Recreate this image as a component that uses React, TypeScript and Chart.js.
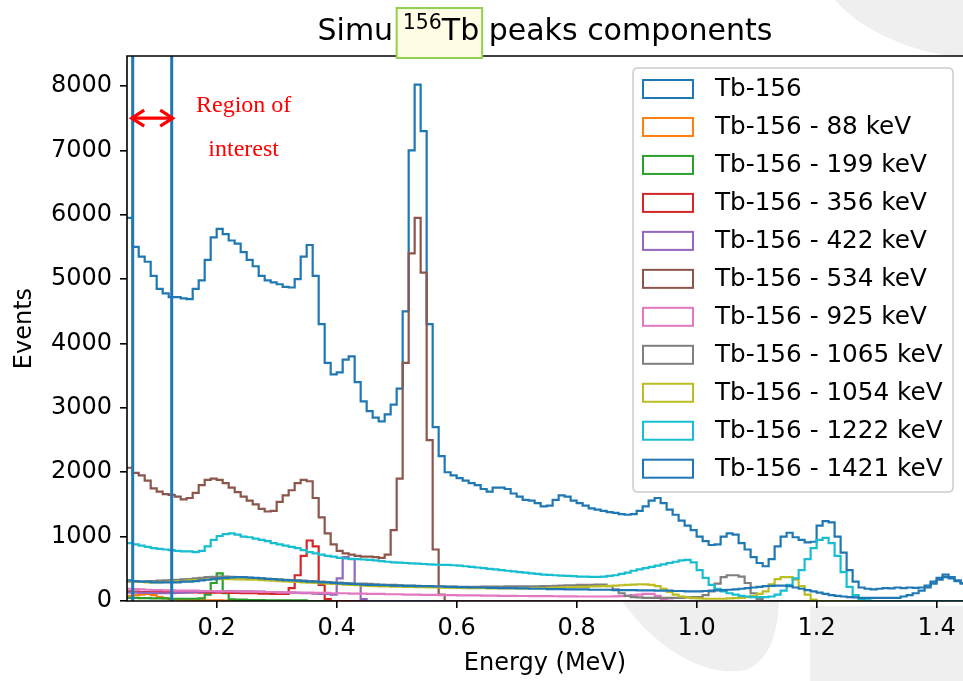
import React, { useEffect, useRef } from 'react';
import { Chart, registerables } from 'chart.js';

Chart.register(...registerables);

const FONT = "'DejaVu Sans', sans-serif";
const SERIF = "'Liberation Serif', 'Times New Roman', serif";

// ---- axes ----
const X_MIN = 0.0505;
const X_MAX = 1.444;
const Y_MIN = 0;
const Y_MAX = 8466;
const xTicks = [0.2, 0.4, 0.6, 0.8, 1.0, 1.2, 1.4];
const yTicks = [0, 1000, 2000, 3000, 4000, 5000, 6000, 7000, 8000];

// ---- histogram binning (MeV) ----
const BIN_START = 0.05;
const BIN_WIDTH = 0.01;
const N_BINS = 140;

// ---- series (counts per bin, bins start at 0.05 MeV, 0.01 MeV wide; missing = 0) ----
const tb156Total = [
  5950, 5500, 5350, 5270, 5050, 4850, 4780, 4720, 4720, 4700,
  4690, 4850, 4980, 5300, 5650, 5780, 5700, 5600, 5550, 5420,
  5300, 5200, 5050, 4980, 4950, 4920, 4880, 4870, 5000, 5350,
  5530, 5050, 4300, 3700, 3520, 3550, 3750, 3800, 3400, 3100,
  2950, 2850, 2790, 2900, 3050, 3300, 4500, 7000, 8020, 7300,
  4300, 2700, 2250, 2000, 1950, 1910, 1870, 1830, 1800, 1740,
  1700, 1760, 1760, 1740, 1670, 1620, 1570, 1560, 1520, 1470,
  1480, 1570, 1640, 1620, 1560, 1520, 1480, 1440, 1420, 1400,
  1380, 1370, 1350, 1340, 1350, 1400, 1470, 1560, 1600, 1520,
  1420, 1340, 1250, 1170, 1100, 1000, 930, 870, 880, 1000,
  1050, 1030, 900, 800, 680, 590, 540, 650, 850, 1000,
  1060, 990, 950, 910, 920, 1170, 1240, 1220, 1000, 750,
  480, 300, 210, 190, 180, 190, 200, 195, 210, 200,
  210, 205, 210, 240, 300, 360, 410, 370, 320, 280,
];
const tb156_88 = [80, 90, 100, 110, 90, 60, 40, 30, 25, 20, 20, 15, 15, 10, 10, 10, 5, 5, 5, 5];
const tb156_199 = [
  50, 50, 45, 45, 40, 40, 40, 35, 35, 35, 35, 35, 40, 100, 280, 430, 120, 25, 20, 20,
  15, 15, 15, 10, 10, 10, 10, 10, 10, 10,
];
const tb156_356 = [
  150, 145, 140, 140, 140, 140, 140, 135, 135, 135, 135, 135, 130, 130, 130, 130, 130,
  125, 125, 120, 120, 120, 115, 115, 110, 110, 110, 200, 400, 700, 940, 850, 250, 30,
];
const tb156_422 = [
  130, 130, 125, 125, 125, 120, 120, 120, 125, 130, 135, 140, 145, 150, 150, 150, 155,
  155, 150, 150, 150, 145, 145, 140, 140, 135, 130, 130, 125, 120, 120, 115, 110, 110,
  100, 350, 680, 650, 250, 30,
];
const tb156_534 = [
  2070, 1990, 1950, 1870, 1750, 1700, 1660, 1650, 1620, 1580,
  1600, 1680, 1800, 1880, 1900, 1880, 1830, 1760, 1690, 1620,
  1560, 1500, 1430, 1390, 1400, 1540, 1640, 1720, 1830, 1880,
  1860, 1600, 1300, 1050, 880, 780, 740, 720, 700, 690,
  690, 680, 670, 720, 1100, 1900, 3700, 5400, 5950, 5100,
  2500, 800, 100,
];
const tb156_925 = [
  190, 185, 180, 175, 170, 170, 165, 165, 160, 160,
  160, 160, 155, 155, 155, 150, 150, 150, 150, 145,
  145, 145, 140, 140, 140, 135, 135, 135, 130, 130,
  130, 125, 125, 125, 120, 120, 120, 115, 115, 115,
  110, 110, 110, 105, 105, 105, 100, 100, 100, 95,
  95, 95, 90, 90, 90, 88, 88, 86, 86, 85,
  85, 85, 80, 80, 80, 78, 78, 76, 76, 75,
  75, 74, 73, 72, 72, 70, 70, 70, 70, 70,
  70, 72, 75, 80, 90, 100, 110, 110, 80, 30,
  5,
];
const tb156_1065 = [
  300, 300, 300, 305, 310, 315, 320, 325, 330, 335,
  340, 350, 360, 370, 375, 380, 380, 375, 370, 365,
  360, 355, 350, 345, 340, 335, 330, 325, 320, 315,
  310, 305, 300, 295, 290, 285, 280, 275, 270, 270,
  265, 260, 255, 250, 250, 245, 240, 240, 235, 230,
  230, 228, 226, 224, 222, 220, 220, 220, 220, 222,
  222, 224, 225, 226, 226, 227, 228, 228, 229, 230,
  230, 235, 240, 245, 245, 250, 250, 250, 255, 255,
  230, 180, 120, 80, 60, 55, 50, 50, 50, 50,
  50, 50, 50, 55, 60, 60, 90, 150, 270, 370,
  400, 400, 380, 280, 120, 30,
];
const tb156_1054 = [
  310, 300, 295, 290, 290, 290, 295, 300, 305, 310,
  320, 325, 330, 335, 340, 340, 340, 340, 335, 335,
  330, 330, 325, 320, 315, 310, 305, 300, 295, 290,
  285, 280, 275, 270, 265, 260, 255, 250, 245, 240,
  235, 230, 228, 226, 224, 222, 220, 218, 216, 214,
  212, 210, 208, 206, 204, 202, 200, 200, 198, 198,
  196, 196, 195, 195, 195, 195, 196, 198, 200, 202,
  205, 208, 210, 212, 215, 218, 220, 225, 228, 232,
  235, 240, 245, 250, 255, 260, 258, 250, 230, 190,
  140, 100, 70, 55, 45, 40, 35, 35, 35, 35,
  40, 45, 50, 60, 80, 110, 150, 260, 340, 370,
  370, 330, 230, 100, 20,
];
const tb156_1222 = [
  900, 880, 860, 840, 820, 810, 800, 790, 780, 770,
  770, 760, 780, 850, 950, 1010, 1040, 1050, 1030, 1000,
  990, 970, 950, 930, 900, 880, 860, 840, 820, 790,
  760, 740, 720, 700, 690, 670, 660, 655, 650, 645,
  640, 630, 620, 610, 600, 595, 590, 585, 580, 575,
  570, 565, 560, 560, 555, 550, 540, 530, 520, 510,
  500, 490, 480, 470, 460, 450, 440, 430, 420, 410,
  405, 400, 395, 390, 385, 380, 380, 375, 375, 380,
  390, 400, 420, 440, 470, 490, 510, 530, 550, 570,
  590, 610, 630, 640, 600, 480, 360, 250, 190, 150,
  120, 100, 80, 70, 60, 60, 60, 70, 100, 160,
  250, 350, 480, 650, 820, 950, 980, 900, 700, 450,
  220, 90, 30, 10,
];
const tb156_1421 = [
  320, 310, 300, 300, 290, 290, 290, 290, 290, 300,
  300, 310, 320, 330, 340, 350, 360, 365, 370, 370,
  365, 360, 350, 345, 340, 330, 325, 320, 315, 310,
  300, 300, 290, 290, 280, 275, 270, 265, 260, 255,
  250, 250, 245, 245, 240, 240, 235, 235, 230, 230,
  230, 225, 225, 220, 220, 215, 215, 210, 210, 210,
  205, 205, 200, 200, 200, 195, 195, 190, 190, 190,
  185, 185, 185, 180, 180, 180, 180, 175, 175, 175,
  175, 170, 170, 170, 170, 165, 165, 165, 160, 160,
  160, 155, 155, 150, 150, 150, 155, 160, 165, 170,
  175, 180, 190, 200, 210, 220, 230, 235, 240, 240,
  230, 210, 190, 170, 150, 130, 110, 90, 80, 70,
  60, 55, 50, 50, 50, 50, 50, 50, 50, 70,
  90, 120, 160, 210, 270, 330, 370, 350, 310, 270,
];

const seriesLabels = [
  'Tb-156',
  'Tb-156 - 88 keV',
  'Tb-156 - 199 keV',
  'Tb-156 - 356 keV',
  'Tb-156 - 422 keV',
  'Tb-156 - 534 keV',
  'Tb-156 - 925 keV',
  'Tb-156 - 1065 keV',
  'Tb-156 - 1054 keV',
  'Tb-156 - 1222 keV',
  'Tb-156 - 1421 keV',
];
const seriesValues = [
  tb156Total, tb156_88, tb156_199, tb156_356, tb156_422, tb156_534,
  tb156_925, tb156_1065, tb156_1054, tb156_1222, tb156_1421,
];
const seriesColors = [
  '#1f77b4', '#ff7f0e', '#2ca02c', '#d62728', '#9467bd', '#8c564b',
  '#e377c2', '#7f7f7f', '#bcbd22', '#17becf', '#1f77b4',
];

// ---- region of interest annotation ----
const roiBounds = [0.06, 0.125];
const roiArrowLevel = 7500;
const roiTextLines = ['Region of', 'interest'];
const roiTextX = 0.245;
const roiTextLevels = [7593, 6910];

const titleParts = { before: 'Simu ', sup: '156', main: 'Tb', after: ' peaks components' };

function toSteps(values: number[]) {
  const pts: { x: number; y: number }[] = [];
  for (let i = 0; i < N_BINS; i++) {
    pts.push({ x: +(BIN_START + i * BIN_WIDTH).toFixed(4), y: values[i] ?? 0 });
  }
  pts.push({ x: +(BIN_START + N_BINS * BIN_WIDTH).toFixed(4), y: values[N_BINS - 1] ?? 0 });
  return pts;
}

const decorPlugin = {
  id: 'decor',
  beforeDraw(chart: any) {
    const { ctx, width, height, chartArea: a } = chart;
    ctx.save();
    ctx.fillStyle = '#ffffff';
    ctx.fillRect(0, 0, width, height);
    // faint background watermark
    ctx.fillStyle = '#efefef';
    ctx.beginPath();
    ctx.moveTo(835, 0);
    ctx.bezierCurveTo(860, 30, 910, 52, width, 58);
    ctx.lineTo(width, 0);
    ctx.closePath();
    ctx.fill();
    ctx.beginPath();
    ctx.moveTo(622, 601);
    ctx.bezierCurveTo(655, 648, 705, 678, 745, 670);
    ctx.bezierCurveTo(770, 662, 778, 630, 779, 601);
    ctx.closePath();
    ctx.fill();
    ctx.fillRect(810, 606, width - 810, height - 606);
    ctx.fillStyle = '#ffffff';
    ctx.fillRect(a.left, a.top, a.right - a.left, a.bottom - a.top);
    ctx.restore();
  },
  afterDraw(chart: any) {
    const { ctx, chartArea: a, scales } = chart;
    const xs = scales.x;
    const ys = scales.y;
    ctx.save();

    // frame
    ctx.strokeStyle = '#000';
    ctx.lineWidth = 1.6;
    ctx.beginPath();
    ctx.moveTo(a.right + 2, a.top);
    ctx.lineTo(a.left, a.top);
    ctx.lineTo(a.left, a.bottom);
    ctx.lineTo(a.right + 2, a.bottom);
    ctx.stroke();

    // title with boxed superscript
    const cx = (a.left + a.right) / 2;
    const baseY = 40;
    ctx.font = `30px ${FONT}`;
    const wBefore = ctx.measureText(titleParts.before).width;
    const wMain = ctx.measureText(titleParts.main).width;
    const wAfter = ctx.measureText(titleParts.after).width;
    ctx.font = `20.5px ${FONT}`;
    const wSup = ctx.measureText(titleParts.sup).width;
    const total = wBefore + wSup + wMain + wAfter;
    let tx = cx - total / 2;
    const boxL = tx + wBefore - 6;
    const boxR = tx + wBefore + wSup + wMain + 3;
    ctx.fillStyle = '#fffde6';
    ctx.fillRect(boxL, 8, boxR - boxL, 50);
    ctx.fillStyle = '#000';
    ctx.textBaseline = 'alphabetic';
    ctx.textAlign = 'left';
    ctx.font = `30px ${FONT}`;
    ctx.fillText(titleParts.before, tx, baseY);
    tx += wBefore;
    ctx.font = `20.5px ${FONT}`;
    ctx.fillText(titleParts.sup, tx, baseY - 11);
    tx += wSup;
    ctx.font = `30px ${FONT}`;
    ctx.fillText(titleParts.main, tx, baseY);
    tx += wMain;
    ctx.fillText(titleParts.after, tx, baseY);
    ctx.strokeStyle = '#92d050';
    ctx.lineWidth = 2;
    ctx.strokeRect(boxL, 8, boxR - boxL, 50);

    // axis titles
    ctx.fillStyle = '#000';
    ctx.font = `24px ${FONT}`;
    ctx.textAlign = 'center';
    ctx.textBaseline = 'middle';
    ctx.fillText('Energy (MeV)', cx, 664);
    ctx.save();
    ctx.translate(25, (a.top + a.bottom) / 2);
    ctx.rotate(-Math.PI / 2);
    ctx.fillText('Events', 0, 0);
    ctx.restore();

    // legend
    const lx = 633, ly = 68, lw = 320, lh = 424, r = 5;
    ctx.beginPath();
    ctx.moveTo(lx + r, ly);
    ctx.lineTo(lx + lw - r, ly);
    ctx.quadraticCurveTo(lx + lw, ly, lx + lw, ly + r);
    ctx.lineTo(lx + lw, ly + lh - r);
    ctx.quadraticCurveTo(lx + lw, ly + lh, lx + lw - r, ly + lh);
    ctx.lineTo(lx + r, ly + lh);
    ctx.quadraticCurveTo(lx, ly + lh, lx, ly + lh - r);
    ctx.lineTo(lx, ly + r);
    ctx.quadraticCurveTo(lx, ly, lx + r, ly);
    ctx.closePath();
    ctx.fillStyle = 'rgba(255,255,255,0.85)';
    ctx.fill();
    ctx.strokeStyle = '#cccccc';
    ctx.lineWidth = 1.5;
    ctx.stroke();
    ctx.font = `24.7px ${FONT}`;
    ctx.textAlign = 'left';
    ctx.textBaseline = 'middle';
    seriesLabels.forEach((lab, i) => {
      const yc = 89 + i * 37.97;
      ctx.strokeStyle = seriesColors[i];
      ctx.lineWidth = 2;
      ctx.strokeRect(643, yc - 9, 50, 18);
      ctx.fillStyle = '#000';
      ctx.fillText(lab, 715, yc + 1);
    });

    // region of interest arrow + text
    const x1 = xs.getPixelForValue(roiBounds[0]) - 2.5;
    const x2 = xs.getPixelForValue(roiBounds[1]) + 2.5;
    const ay = ys.getPixelForValue(roiArrowLevel);
    ctx.strokeStyle = '#ff0000';
    ctx.lineWidth = 3.2;
    ctx.lineCap = 'butt';
    ctx.lineJoin = 'miter';
    ctx.beginPath();
    ctx.moveTo(x1 + 2, ay);
    ctx.lineTo(x2 - 2, ay);
    ctx.stroke();
    ctx.beginPath();
    ctx.moveTo(x1 + 14, ay - 8);
    ctx.lineTo(x1 + 1.5, ay);
    ctx.lineTo(x1 + 14, ay + 8);
    ctx.moveTo(x2 - 14, ay - 8);
    ctx.lineTo(x2 - 1.5, ay);
    ctx.lineTo(x2 - 14, ay + 8);
    ctx.stroke();
    ctx.fillStyle = '#ff0000';
    ctx.font = `24px ${SERIF}`;
    ctx.textAlign = 'center';
    ctx.textBaseline = 'alphabetic';
    roiTextLines.forEach((t, i) => {
      ctx.fillText(t, xs.getPixelForValue(roiTextX), ys.getPixelForValue(roiTextLevels[i]));
    });

    ctx.restore();
  },
};

export default function App() {
  const ref = useRef<HTMLCanvasElement | null>(null);

  useEffect(() => {
    if (!ref.current) return;
    const datasets: any[] = seriesValues.map((vals, i) => ({
      label: seriesLabels[i],
      data: toSteps(vals),
      borderColor: seriesColors[i],
      backgroundColor: seriesColors[i],
      borderWidth: 2.2,
      stepped: true,
      fill: false,
      pointRadius: 0,
      order: seriesValues.length - i + 2,
    }));
    roiBounds.forEach((b, k) => {
      datasets.push({
        label: `roi-${k}`,
        data: [
          { x: b, y: Y_MIN },
          { x: b, y: Y_MAX },
        ],
        borderColor: '#1f77b4',
        borderWidth: 3,
        fill: false,
        pointRadius: 0,
        order: 0,
      });
    });

    const chart = new Chart(ref.current, {
      type: 'line',
      data: { datasets },
      options: {
        animation: false,
        responsive: false,
        devicePixelRatio: 1,
        layout: { padding: { top: 56, left: 0, right: 0, bottom: 0 } },
        elements: { point: { radius: 0 }, line: { tension: 0 } },
        plugins: {
          legend: { display: false },
          tooltip: { enabled: false },
          title: { display: false },
        },
        scales: {
          x: {
            type: 'linear',
            min: X_MIN,
            max: X_MAX,
            afterBuildTicks: (s: any) => {
              s.ticks = xTicks.map((v) => ({ value: v }));
            },
            afterFit: (s: any) => {
              s.height = 80;
            },
            ticks: {
              callback: (v: any) => Number(v).toFixed(1),
              font: { family: FONT, size: 24 },
              color: '#000',
              padding: 6,
              maxRotation: 0,
              autoSkip: false,
            },
            grid: {
              display: true,
              drawOnChartArea: false,
              drawTicks: true,
              tickLength: 7,
              color: '#000',
              lineWidth: 1.6,
            },
            border: { display: false },
          },
          y: {
            type: 'linear',
            min: Y_MIN,
            max: Y_MAX,
            afterBuildTicks: (s: any) => {
              s.ticks = yTicks.map((v) => ({ value: v }));
            },
            afterFit: (s: any) => {
              s.width = 127;
            },
            ticks: {
              callback: (v: any) => String(v),
              font: { family: FONT, size: 24 },
              color: '#000',
              padding: 8,
              autoSkip: false,
            },
            grid: {
              display: true,
              drawOnChartArea: false,
              drawTicks: true,
              tickLength: 7,
              color: '#000',
              lineWidth: 1.6,
            },
            border: { display: false },
          },
        },
      },
      plugins: [decorPlugin],
    } as any);
    return () => chart.destroy();
  }, []);

  return (
    <div style={{ position: 'absolute', left: 0, top: 0, width: 963, height: 681 }}>
      <canvas ref={ref} width={963} height={681} style={{ display: 'block' }} />
    </div>
  );
}
